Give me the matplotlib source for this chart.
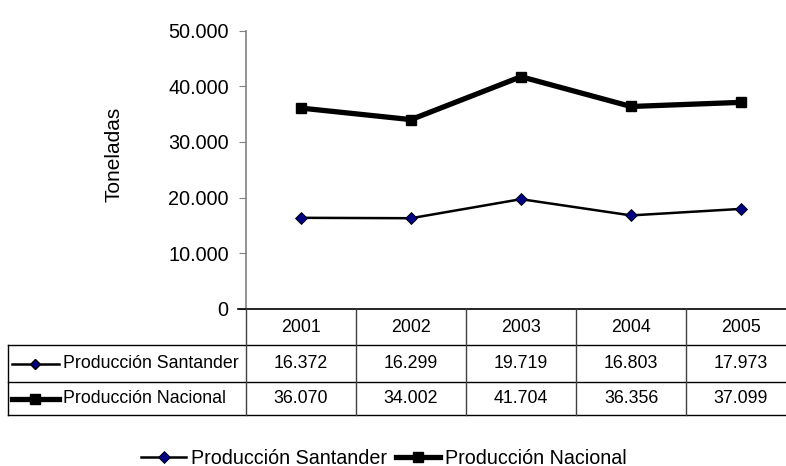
import matplotlib.pyplot as plt
from matplotlib.lines import Line2D
import numpy as np

plt.rcParams['font.family'] = ['Liberation Sans', 'DejaVu Sans']

# datos
years = ['2001', '2002', '2003', '2004', '2005']
santander = [16372, 16299, 19719, 16803, 17973]
nacional = [36070, 34002, 41704, 36356, 37099]
series_names = ['Producción Santander', 'Producción Nacional']
yticks = [0, 10000, 20000, 30000, 40000, 50000]


def fmt(v):
    return '{:,}'.format(v).replace(',', '.')


W, H = 786, 466
fig = plt.figure(figsize=(W / 100, H / 100), dpi=100)

# area del grafico (pixeles)
left, right, top, bottom = 246, 796, 30.5, 309
ax = fig.add_axes([left / W, 1 - bottom / H, (right - left) / W, (bottom - top) / H])

x = np.arange(len(years))
styles = [
    dict(color='black', lw=1.8, marker='D', ms=6, mfc='#000080', mec='black', mew=0.6),
    dict(color='black', lw=3.8, marker='s', ms=7.5, mfc='black', mec='black'),
]
ax.plot(x, santander, **styles[0])
ax.plot(x, nacional, **styles[1])

ax.set_xlim(-0.5, len(years) - 0.5)
ax.set_ylim(0, 50000)
ax.set_yticks(yticks)
ax.set_yticklabels([fmt(v) for v in yticks], fontsize=14.3)
ax.set_xticks([])
for s in ['top', 'right', 'bottom']:
    ax.spines[s].set_visible(False)
ax.spines['left'].set_color('#808080')
ax.spines['left'].set_linewidth(1.2)
ax.tick_params(axis='y', color='#808080', length=5, pad=7.5)
fig.text(114 / W, 1 - 154 / H, 'Toneladas', rotation=90, ha='center', va='center', fontsize=15)

# tabla de datos
def px(xp, yp):
    return xp / W, 1 - yp / H

rows_y = [309, 345, 382, 415]
col_x = [left + i * (right - left) / len(years) for i in range(len(years) + 1)]
lab_left = 8
lc = 'black'
tl = fig.transFigure
tfs = 12.8

# horizontales
fig.add_artist(Line2D(*zip(px(left - 8, rows_y[0]), px(right, rows_y[0])), color=lc, lw=1.2, transform=tl))
for yy in rows_y[1:]:
    fig.add_artist(Line2D(*zip(px(lab_left, yy), px(right, yy)), color=lc, lw=1.0, transform=tl))
# verticales
for i, xx in enumerate(col_x):
    fig.add_artist(Line2D(*zip(px(xx, rows_y[0]), px(xx, rows_y[-1])), color='#404040', lw=1.0, transform=tl))
fig.add_artist(Line2D(*zip(px(lab_left, rows_y[1]), px(lab_left, rows_y[-1])), color=lc, lw=1.0, transform=tl))

for i, yr in enumerate(years):
    cx = (col_x[i] + col_x[i + 1]) / 2
    fig.text(*px(cx, (rows_y[0] + rows_y[1]) / 2), yr, ha='center', va='center', fontsize=tfs)
    fig.text(*px(cx, (rows_y[1] + rows_y[2]) / 2), fmt(santander[i]), ha='center', va='center', fontsize=tfs)
    fig.text(*px(cx, (rows_y[2] + rows_y[3]) / 2), fmt(nacional[i]), ha='center', va='center', fontsize=tfs)

for r, name in enumerate(series_names):
    yc = (rows_y[r + 1] + rows_y[r + 2]) / 2
    st = styles[r]
    fig.add_artist(Line2D(*zip(px(12, yc), px(59, yc)), color=st['color'], lw=st['lw'], transform=tl))
    fig.add_artist(Line2D([px(35, yc)[0]], [px(35, yc)[1]], marker=st['marker'], ms=st['ms'] - 0.5,
                          mfc=st['mfc'], mec=st['mec'], transform=tl))
    fig.text(*px(63, yc), name, ha='left', va='center', fontsize=tfs)

# leyenda
handles = [Line2D([], [], **styles[0]), Line2D([], [], **styles[1])]
fig.legend(handles, series_names, loc='center', bbox_to_anchor=(384 / W, 1 - 458 / H), ncol=2,
           frameon=False, fontsize=14.2, handlelength=2.25, handletextpad=0.25, columnspacing=0.45,
           numpoints=1, borderpad=0, borderaxespad=0)

fig.savefig('out.png', dpi=100)
